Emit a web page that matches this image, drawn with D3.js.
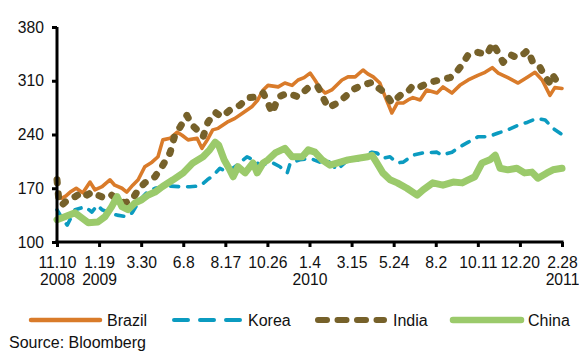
<!DOCTYPE html>
<html>
<head>
<meta charset="utf-8">
<script src="https://cdn.jsdelivr.net/npm/d3@7"></script>
<style>
  body { margin: 0; background: #fff; }
  svg { display: block; font-family: "Liberation Sans", Arial, sans-serif; }
</style>
</head>
<body>
<svg id="chart" width="579" height="352"></svg>
<script>
// Index levels (11.10.2008 = start), sampled as [days since start, level]
const startDate = Date.UTC(2008, 10, 10);

const tickDays = [0, 70, 140, 210, 280, 350, 420, 490, 560, 630, 700, 770, 840];
const tickLabels = [
  ["11.10", "2008"], ["1.19", "2009"], ["3.30", ""], ["6.8", ""], ["8.17", ""],
  ["10.26", ""], ["1.4", "2010"], ["3.15", ""], ["5.24", ""], ["8.2", ""],
  ["10.11", ""], ["12.20", ""], ["2.28", "2011"]
];
const yTicks = [100, 170, 240, 310, 380];

const brazil = [[0,160],[8,157],[15,160],[22,165],[32,170],[43,164],[55,178],[63,168],[75,172],[88,181],[96,174],[108,170],[116,165],[126,174],[135,181],[146,198],[158,204],[168,211],[176,233],[188,235],[200,243],[208,239],[218,233],[233,235],[241,222],[250,233],[259,246],[268,248],[283,256],[296,261],[309,268],[324,276],[334,285],[343,298],[351,304],[368,302],[379,307],[391,304],[401,311],[411,314],[421,320],[429,311],[437,301],[446,294],[457,298],[474,311],[484,315],[496,315],[509,324],[517,319],[526,315],[537,307],[546,289],[557,268],[566,281],[576,281],[584,285],[592,288],[604,285],[615,298],[632,294],[642,302],[657,294],[670,304],[684,311],[700,317],[712,321],[724,327],[734,320],[750,314],[767,307],[783,315],[795,321],[807,311],[820,291],[828,301],[840,300]];

const korea = [[0,142],[10,129],[17,122],[30,142],[47,146],[58,139],[67,148],[75,142],[88,138],[100,135],[116,133],[125,138],[138,155],[150,165],[163,170],[183,173],[205,172],[221,172],[238,173],[250,181],[259,186],[271,196],[283,191],[296,198],[316,211],[326,207],[338,200],[359,203],[371,198],[383,190],[388,203],[404,207],[421,209],[437,204],[449,207],[466,194],[484,207],[501,207],[512,213],[524,217],[532,216],[542,209],[554,211],[566,203],[576,204],[592,213],[609,216],[632,217],[640,213],[657,217],[670,224],[684,230],[700,237],[717,237],[734,242],[750,246],[767,252],[783,256],[798,261],[812,259],[825,248],[840,240]];

const india = [[0,181],[3,155],[8,148],[18,155],[30,159],[42,165],[50,161],[58,165],[68,161],[80,157],[91,161],[101,155],[113,151],[125,155],[135,168],[146,177],[163,185],[176,200],[188,216],[196,239],[205,250],[216,265],[225,252],[233,246],[243,237],[251,256],[263,269],[274,263],[288,272],[304,278],[318,288],[333,289],[343,294],[351,281],[358,268],[368,289],[384,294],[401,289],[418,301],[434,302],[442,289],[451,275],[467,281],[479,289],[491,298],[507,304],[524,308],[532,302],[546,294],[557,281],[571,291],[582,294],[592,304],[604,302],[620,308],[637,311],[654,314],[667,324],[674,331],[684,344],[700,347],[715,344],[725,359],[734,346],[742,334],[754,344],[765,340],[778,346],[783,350],[792,333],[803,328],[812,315],[820,307],[825,317],[833,307],[840,308]];

const china = [[0,129],[13,133],[30,138],[42,131],[52,125],[68,126],[80,133],[91,146],[100,159],[108,146],[118,142],[130,151],[141,155],[151,161],[163,165],[175,172],[193,181],[210,190],[226,203],[243,211],[254,220],[263,230],[269,226],[278,207],[286,196],[293,185],[301,198],[313,190],[326,203],[333,190],[343,203],[351,207],[363,216],[379,222],[391,211],[408,211],[418,220],[429,217],[441,207],[454,200],[467,203],[484,207],[501,209],[517,211],[524,213],[532,203],[542,190],[554,181],[566,177],[582,170],[599,161],[609,168],[625,177],[642,174],[659,178],[674,177],[684,181],[695,185],[707,203],[720,207],[729,213],[737,196],[750,194],[765,196],[778,190],[790,191],[800,183],[815,190],[825,194],[840,196]];

const seriesNames = ["Brazil", "Korea", "India", "China"];
const seriesData = [brazil, korea, india, china];
const seriesColors = ["#d97b2a", "#0b9bc0", "#76612a", "#9bca6b"];

const dayMs = 864e5;
const toDate = d => new Date(startDate + d * dayMs);

const svg = d3.select("#chart");
const x = d3.scaleUtc()
  .domain([toDate(0), toDate(840)])
  .range([57, 562]);
const y = d3.scaleLinear()
  .domain([100, 380])
  .range([242, 27]);

// Series styles: width, dash pattern, cap
const styles = [
  { width: 3.6, dash: null, cap: "round" },
  { width: 3.6, dash: "8,9", cap: "round" },
  { width: 7, dash: "3,11", cap: "round" },
  { width: 7, dash: null, cap: "round" }
];

const line = d3.line()
  .x(d => x(toDate(d[0])))
  .y(d => y(d[1]))
  .curve(d3.curveLinear);

const plot = svg.append("g");
seriesData.forEach((data, i) => {
  plot.append("path")
    .datum(data)
    .attr("fill", "none")
    .attr("stroke", seriesColors[i])
    .attr("stroke-width", styles[i].width)
    .attr("stroke-linejoin", "round")
    .attr("stroke-linecap", styles[i].cap)
    .attr("stroke-dasharray", styles[i].dash)
    .attr("d", line);
});

// Y axis
const yAxis = d3.axisLeft(y).tickValues(yTicks).tickSize(5).tickPadding(8);
const gy = svg.append("g").attr("transform", "translate(57,0)").call(yAxis);
gy.select(".domain").attr("stroke", "#000").attr("stroke-width", 3)
  .attr("d", `M0,${y(380)}V${y(100)}`);
gy.selectAll(".tick line").attr("stroke", "#000").attr("stroke-width", 3);
gy.selectAll(".tick text").attr("fill", "#111").style("font-size", "15.7px")
  .attr("font-family", null);

// X axis
const xAxis = d3.axisBottom(x)
  .tickValues(tickDays.map(toDate))
  .tickSize(5)
  .tickFormat(() => "");
const gx = svg.append("g").attr("transform", "translate(0,242)").call(xAxis);
gx.select(".domain").attr("stroke", "#000").attr("stroke-width", 3)
  .attr("d", `M55.5,0H563.5`);
gx.selectAll(".tick line").attr("stroke", "#000").attr("stroke-width", 3);
gx.selectAll(".tick text").remove();
gx.selectAll(".tick").each(function(d, i) {
  const t = d3.select(this).append("text")
    .attr("fill", "#111")
    .attr("text-anchor", "middle")
    .style("font-size", "15.7px");
  t.append("tspan").attr("x", 0).attr("y", 26).text(tickLabels[i][0]);
  if (tickLabels[i][1]) t.append("tspan").attr("x", 0).attr("y", 43).text(tickLabels[i][1]);
});
svg.selectAll("text").attr("font-family", "'Liberation Sans', Arial, sans-serif");

// Legend
const legendItems = [
  { x1: 31, x2: 100, tx: 107, width: 4.5, dash: null, cap: "round" },
  { x1: 174, x2: 240, tx: 248, width: 4, dash: "14,12", cap: "round" },
  { x1: 318, x2: 384, tx: 393, width: 6, dash: "9,10.5", cap: "round" },
  { x1: 453, x2: 521, tx: 528, width: 6.5, dash: null, cap: "round" }
];
const legend = svg.append("g");
legendItems.forEach((it, i) => {
  legend.append("line")
    .attr("x1", it.x1).attr("x2", it.x2)
    .attr("y1", 320).attr("y2", 320)
    .attr("stroke", seriesColors[i])
    .attr("stroke-width", it.width)
    .attr("stroke-linecap", it.cap)
    .attr("stroke-dasharray", it.dash);
  legend.append("text")
    .attr("x", it.tx).attr("y", 326)
    .attr("fill", "#111")
    .style("font-size", "16px")
    .text(seriesNames[i]);
});

svg.append("text")
  .attr("x", 9).attr("y", 348)
  .attr("fill", "#111")
  .style("font-size", "16px")
  .text("Source: Bloomberg");
</script>
</body>
</html>
